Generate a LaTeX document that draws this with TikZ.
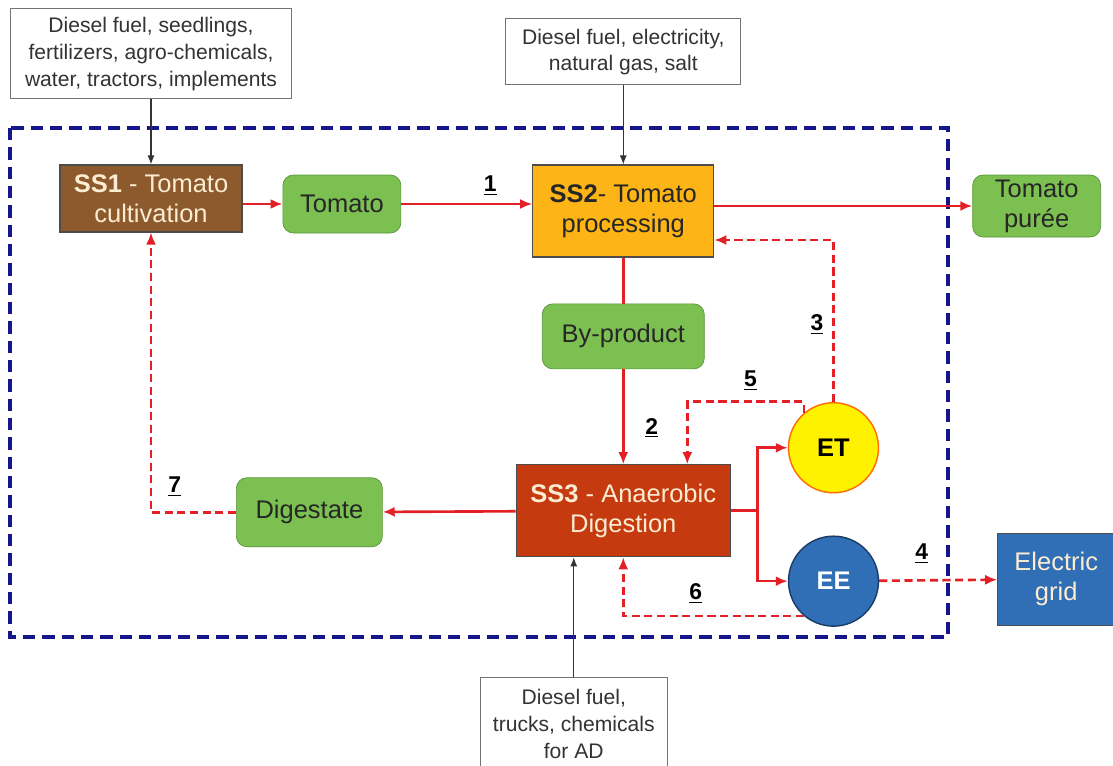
\documentclass[tikz,border=0pt]{standalone}
\usepackage{fontspec}
\setmainfont{Liberation Sans}
\usetikzlibrary{positioning,arrows.meta}
\definecolor{soil}{RGB}{140,90,45}
\definecolor{leaf}{RGB}{125,192,82}
\definecolor{leafdark}{RGB}{88,150,58}
\definecolor{sauce}{RGB}{252,180,22}
\definecolor{digest}{RGB}{198,58,16}
\definecolor{cream}{RGB}{252,236,210}
\definecolor{sun}{RGB}{255,242,0}
\definecolor{volt}{RGB}{48,110,182}
\definecolor{flowred}{RGB}{226,32,38}
\definecolor{fence}{RGB}{22,22,140}

\begin{document}
\begin{tikzpicture}[
    sub/.style={draw=black!70, line width=0.6pt, inner sep=0pt, align=center,
      font=\fontsize{14.5}{17}\selectfont},
    prod/.style={draw=leafdark, fill=leaf, rounded corners=6pt, inner sep=0pt,
      align=center, font=\fontsize{14.5}{17}\selectfont, text=black!85},
    unit/.style={circle, minimum size=1.8cm, inner sep=0pt, line width=0.8pt,
      font=\fontsize{14.5}{17}\selectfont\bfseries},
    inbox/.style={draw=black!55, line width=0.6pt, fill=white, inner sep=0pt,
      align=center, font=\fontsize{12}{15.2}\selectfont, text=black!80},
    flow/.style={draw=flowred, line width=1.5pt, -{Latex[length=2.4mm,width=2mm]}},
    dflow/.style={flow, dash pattern=on 4.6pt off 2.6pt},
    feed/.style={draw=black!80, line width=0.7pt, -{Latex[length=1.8mm,width=1.4mm]}},
    num/.style={font=\fontsize{13}{15}\selectfont\bfseries, inner sep=1pt}]
    \useasboundingbox (0,0) rectangle (22.26,-15.3);
    \draw[fence, line width=2.3pt, dash pattern=on 7pt off 4pt] (0.2,-2.56) rectangle (18.96,-12.74);

    \node[sub, fill=soil, text=cream, minimum width=3.64cm, minimum height=1.34cm] (ss1) at (3.02,-3.97)
        {\textbf{SS1} - Tomato\\cultivation};
    \node[prod, right=0.8cm of ss1, yshift=-0.11cm, minimum width=2.36cm, minimum height=1.16cm] (tomato) {Tomato};
    \node[sub, fill=sauce, text=black!85, right=2.62cm of tomato, yshift=-0.14cm, minimum width=3.62cm, minimum height=1.84cm] (ss2)
        {\textbf{SS2}- Tomato\\processing};
    \node[prod, right=5.16cm of ss2, yshift=0.1cm, minimum width=2.56cm, minimum height=1.24cm] (puree) {Tomato\\purée};
    \node[prod, below=0.92cm of ss2, minimum width=3.24cm, minimum height=1.3cm] (byprod) {By-product};
    \node[sub, fill=digest, text=cream, below=1.9cm of byprod, minimum width=4.28cm, minimum height=1.84cm] (ss3)
        {\textbf{SS3} - Anaerobic\\Digestion};
    \node[prod, left=2.66cm of ss3, yshift=-0.03cm, minimum width=2.92cm, minimum height=1.38cm] (digestate) {Digestate};
    \node[unit, draw=orange!85!red, fill=sun, right=1.14cm of ss3, yshift=1.26cm] (et) {ET};
    \node[unit, draw=volt!55!black, fill=volt, text=white, below=0.84cm of et] (ee) {EE};
    \node[sub, fill=volt, text=cream, right=2.36cm of ee, yshift=0.04cm, minimum width=2.34cm, minimum height=1.84cm] (grid)
        {Electric\\grid};

    \node[inbox, above=1.3cm of ss1, minimum width=5.62cm, minimum height=1.8cm] (in1)
        {Diesel fuel, seedlings,\\fertilizers, agro-chemicals,\\water, tractors, implements};
    \node[inbox, above=1.58cm of ss2, minimum width=4.7cm, minimum height=1.32cm] (in2)
        {Diesel fuel, electricity,\\natural gas, salt};
    \node[inbox, below=2.4cm of ss3, xshift=-0.99cm, minimum width=3.74cm, minimum height=1.84cm] (in3)
        {Diesel fuel,\\trucks, chemicals\\for AD};

    \draw[feed] (in1) -- (ss1);
    \draw[feed] (in2) -- (ss2);
    \draw[feed] (in3.north) -- (in3.north |- ss3.south);

    \draw[flow] (ss1.east |- tomato) -- (tomato);
    \draw[flow] (tomato.east) -- node[num, above=0.12cm, pos=0.68] {\underline{1}} (tomato.east -| ss2.west);
    \draw[flow] (ss2.east |- puree) -- (puree);
    \draw[flow, -] (ss2) -- (byprod);
    \draw[flow] (byprod) -- node[num, right=0.38cm, pos=0.62] {\underline{2}} (ss3);
    \coordinate[right=0.54cm of ss3.east] (split);
    \draw[flow, -] (ss3.east) -- (split);
    \draw[flow] (split) |- (et);
    \draw[flow] (split) |- (ee);
    \draw[dflow] (et.north) |- node[num, left=0.14cm, pos=0.24] {\underline{3}} ([yshift=-0.58cm]ss2.east);
    \draw[dflow] (et.130) -- ++(0,0.22) -| node[num, above=0.16cm, pos=0.23] {\underline{5}} ([xshift=1.28cm]ss3.north);
    \draw[dflow] (ee.230) -| node[num, above=0.2cm, pos=0.3] {\underline{6}} (ss3.south);
    \draw[dflow] (ee) -- node[num, above=0.28cm, pos=0.36] {\underline{4}} (grid);
    \draw[flow] (ss3) -- (digestate);
    \draw[dflow] (digestate) -| node[num, above=0.26cm, pos=0.36] {\underline{7}} (ss1.south);
\end{tikzpicture}
\end{document}
